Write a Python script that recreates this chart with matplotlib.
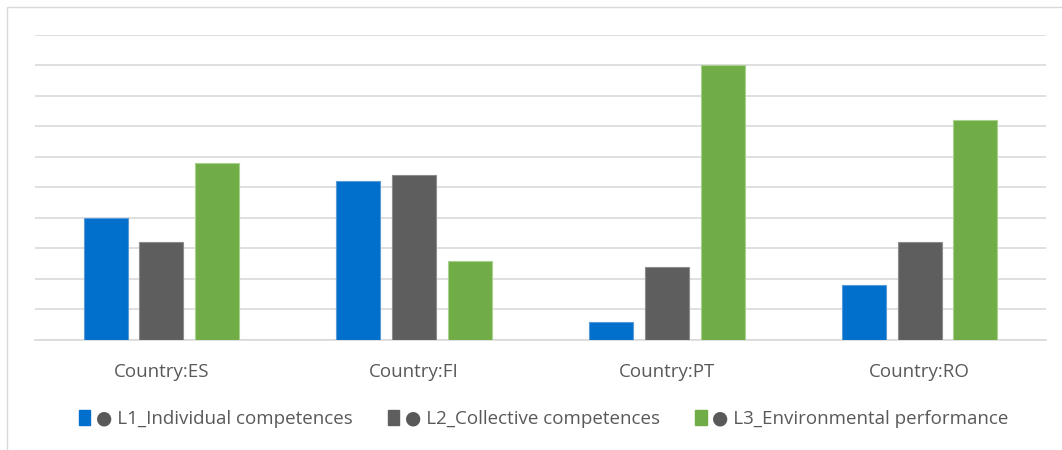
import matplotlib.pyplot as plt
import matplotlib.patches as mpatches
import numpy as np

countries = ["Country:ES", "Country:FI", "Country:PT", "Country:RO"]
series_names = [
    "L1_Individual competences",
    "L2_Collective competences",
    "L3_Environmental performance",
]
l1_values = [4.0, 5.2, 0.6, 1.8]
l2_values = [3.2, 5.4, 2.4, 3.2]
l3_values = [5.8, 2.6, 9.0, 7.2]
colors = ["#0070CC", "#5E5E5E", "#70AD47"]
edge_colors = ["#5A9BD5", "#8C8C8C", "#A9D18E"]

plt.rcParams["font.family"] = ["Open Sans", "DejaVu Sans"]
text_color = "#595959"

fig = plt.figure(figsize=(10.62, 4.5), dpi=100)
# light frame around the chart area
fig.patches.append(
    mpatches.Rectangle((7 / 1062, -0.01), 1.02, 1 - 7 / 450 + 0.01,
                       transform=fig.transFigure, fill=False,
                       edgecolor="#D9D9D9", linewidth=1.0)
)

ax = fig.add_axes([35 / 1062, 1 - 340 / 450, (1046 - 35) / 1062, (340 - 34.5) / 450])

x = np.arange(len(countries))
width = 0.174
step = 0.221
for i, vals in enumerate([l1_values, l2_values, l3_values]):
    ax.bar(x + (i - 1) * step, vals, width, color=colors[i],
           edgecolor=edge_colors[i], linewidth=0.8, zorder=3)

ax.set_xlim(-0.5, len(countries) - 0.5)
ax.set_ylim(0, 10)
ax.set_yticks(np.arange(0, 11, 1))
ax.yaxis.grid(True, color="#D9D9D9", linewidth=1.2, zorder=0)
ax.tick_params(axis="y", left=False, labelleft=False)
ax.tick_params(axis="x", bottom=False, labelsize=13.5, colors=text_color, pad=13)
ax.set_xticks(x)
ax.set_xticklabels(countries)
for s in ["top", "right", "left"]:
    ax.spines[s].set_visible(False)
ax.spines["bottom"].set_color("#D9D9D9")
ax.spines["bottom"].set_linewidth(1.2)

handles = [mpatches.Patch(color=c) for c in colors]
labels = ["\u25CF " + n for n in series_names]
leg = fig.legend(handles, labels, loc="center", bbox_to_anchor=(0.512, 1 - 419 / 450),
                 ncol=3, frameon=False, fontsize=13.5, handlelength=0.6,
                 handleheight=0.8, handletextpad=0.3, columnspacing=1.9)
for t in leg.get_texts():
    t.set_color(text_color)

fig.savefig("out.png", dpi=100)
